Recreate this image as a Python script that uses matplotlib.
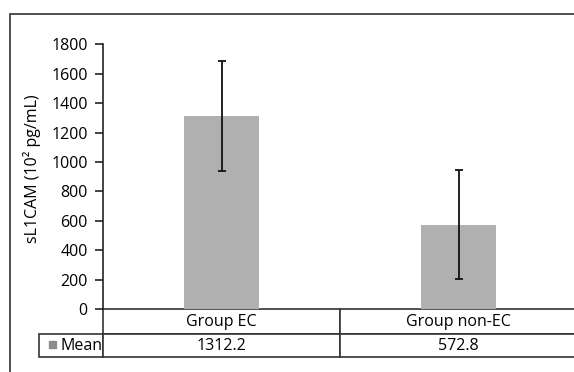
import matplotlib
matplotlib.use("Agg")
import matplotlib.pyplot as plt
from matplotlib.patches import Rectangle
from matplotlib.table import Table

categories = ["Group EC", "Group non-EC"]
means = [1312.2, 572.8]
sds = [377, 370]
series_name = "Mean"
yticks = [0, 200, 400, 600, 800, 1000, 1200, 1400, 1600, 1800]

plt.rcParams['font.family'] = ['Open Sans', 'DejaVu Sans']
fs = 11.5

W, H = 574, 372
fig = plt.figure(figsize=(W / 100, H / 100), dpi=100)

# outer chart frame (right and bottom lie off the picture)
fig.patches.append(Rectangle((10 / W, -0.1), 1.2, 1.1 - 14 / H, transform=fig.transFigure,
                             fill=False, edgecolor='#404040', linewidth=1.3))

ax_l, ax_r, ax_b, ax_t = 103, 577, 309, 44.3
ax = fig.add_axes([ax_l / W, 1 - ax_b / H, (ax_r - ax_l) / W, (ax_b - ax_t) / H])

bar_color = '#b0b0b0'
x = list(range(len(categories)))
ax.bar(x, means, width=0.316, color=bar_color, zorder=2)
ax.errorbar(x, means, yerr=sds, fmt='none', ecolor='#111111', elinewidth=1.3,
            capsize=3, capthick=1.3, zorder=3)

ax.set_xlim(-0.5, len(categories) - 0.5)
ax.set_ylim(0, 1800)
ax.set_yticks(yticks)
ax.set_xticks([])
for s in ['top', 'right', 'bottom']:
    ax.spines[s].set_visible(False)
ax.spines['left'].set_color('#222222')
ax.spines['left'].set_linewidth(1.2)
ax.tick_params(axis='y', length=6, width=1.2, color='#222222', pad=5, labelsize=fs)
ax.set_ylabel("sL1CAM (10² pg/mL)", fontsize=fs)
ax.yaxis.set_label_coords(-(ax_l - 41) / (ax_r - ax_l), (ax_b - 169) / (ax_b - ax_t))

# data table under the axis
px_w = ax_r - ax_l
px_h = ax_b - ax_t
row1, row2, lab_w = 25, 23, 64
tab = Table(ax, bbox=[0, -(row1 + row2) / px_h, 1, (row1 + row2) / px_h])
colw = 1.0 / len(categories)
for j, cat in enumerate(categories):
    tab.add_cell(0, j, width=colw, height=row1 / px_h, text=cat, loc='center')
for j, m in enumerate(means):
    tab.add_cell(1, j, width=colw, height=row2 / px_h, text=f"{m:.1f}", loc='center')
tab.add_cell(1, -1, width=lab_w / px_w, height=row2 / px_h, text=series_name, loc='right')
tab.auto_set_font_size(False)
tab.set_fontsize(fs)
for cell in tab.get_celld().values():
    cell.set_edgecolor('#333333')
    cell.set_linewidth(1.2)
    cell.PAD = 0.005
ax.add_table(tab)

# legend key in the row label cell
ax.add_patch(Rectangle(((49 - ax_l) / px_w, -(348 - ax_b) / px_h), 7 / px_w, 7 / px_h,
                       transform=ax.transAxes, color='#8c8c8c', clip_on=False))

fig.savefig("out.png", dpi=100)
